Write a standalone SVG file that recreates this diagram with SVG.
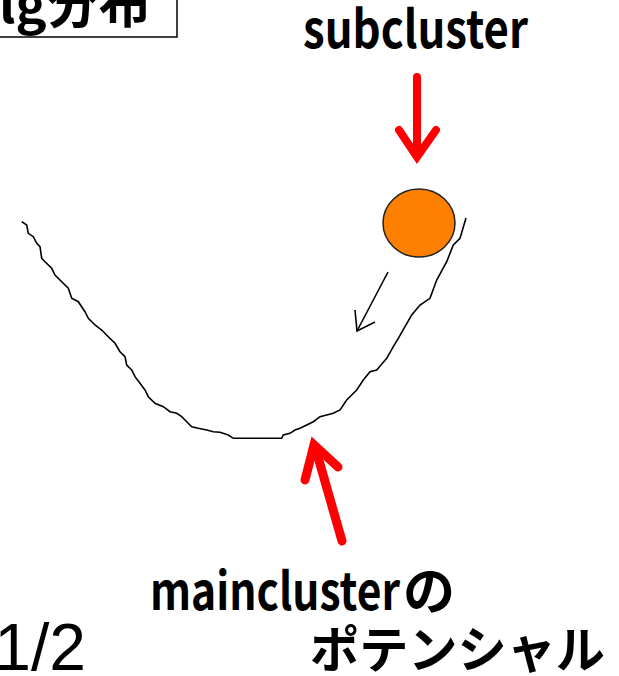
<svg xmlns="http://www.w3.org/2000/svg" width="619" height="676" viewBox="0 0 619 676">
<style>
.jp{font-family:"Noto Sans CJK JP","Noto Sans",sans-serif;font-weight:bold;fill:#000}
.num{font-family:"Liberation Sans",Arial,sans-serif;fill:#000}
.red{stroke:#FF0000;fill:none;stroke-linecap:round}
.blk{stroke:#000;fill:none}
</style>
<rect width="619" height="676" fill="#fff"/>
<g id="title-box">
<rect x="-3" y="-3" width="180" height="40" fill="#fff" stroke="#000" stroke-width="1.5"/>
<text class="jp" x="-1" y="23" font-size="52" textLength="152" lengthAdjust="spacingAndGlyphs">lg分布</text>
</g>
<g id="potential-curve">
<polyline class="blk" stroke-width="1.6" stroke-linejoin="miter" points="21.7,221.7 26.7,225 28.3,233.3 33.3,236.7 36.7,243.3 40,246.7 41.7,258.3 45,261.7 51.7,268.3 55,275 61.7,281.7 68.3,288.3 71.7,298.3 78.3,301.7 85,311.7 88.3,318.3 95,325 101.7,330 108.3,336.7 115,343.3 120,351.7 125,356.7 126.7,365 131.7,370 135,376.7 140,383.3 145,390 148.3,396.7 155,403.3 163.3,406.7 170,411.7 176.7,413.3 181.7,416.7 186.7,421.7 191.7,426.7 198.3,428.3 206.7,430 213.3,431.7 220,432.3 228.3,435 233.3,438.3 281.7,438.3 283.3,435 290,433.3 295,430 300,428.3 306.7,425 313.3,421.7 320,416.7 333.3,413.3 340,410 346.7,400 356.7,390 363.3,380 370,371.7 376.7,370 386.7,358.3 393.3,346.7 398.3,338.3 405,326.7 411.7,315 420,305 430,298.3 436.7,280 446.7,261.7 453.3,245 460,238.3 466,218"/>
</g>
<g id="subcluster-ball">
<ellipse cx="419" cy="223" rx="36" ry="34" fill="#FF8000" stroke="#222" stroke-width="1.5"/>
</g>
<g id="labels">
<text class="jp" x="303" y="48" font-size="52" textLength="225" lengthAdjust="spacingAndGlyphs">subcluster</text>
<text class="jp" x="150" y="610" font-size="52"><tspan textLength="250" lengthAdjust="spacingAndGlyphs">maincluster</tspan><tspan x="403">の</tspan></text>
<text class="jp" x="310" y="668" font-size="50" textLength="295" lengthAdjust="spacingAndGlyphs">ポテンシャル</text>
<text class="num" x="86" y="670" font-size="66" text-anchor="end">1/2</text>
</g>
<g id="connectors">
<line class="red" x1="417" y1="77" x2="417" y2="152" stroke-width="8"/>
<polyline class="red" points="399,130 417,157 436,130" stroke-width="8" stroke-linejoin="miter"/>
<line class="red" x1="342" y1="541" x2="316" y2="450" stroke-width="9"/>
<polyline class="red" points="305,480 314,445 338,467" stroke-width="9" stroke-linejoin="miter"/>
<line class="blk" x1="388" y1="272" x2="357" y2="331" stroke-width="1.6"/>
<polyline class="blk" points="355,310 357,331 375,322" stroke-width="1.6"/>
</g>
</svg>
